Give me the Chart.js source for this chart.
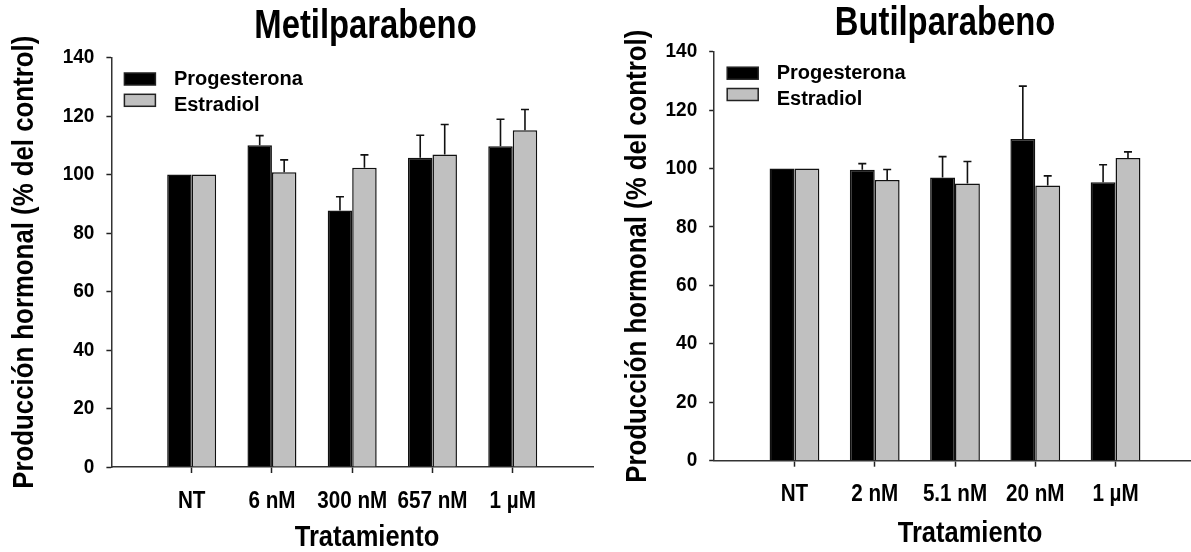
<!DOCTYPE html>
<html lang="es">
<head>
<meta charset="utf-8">
<title>Producción hormonal</title>
<script src="https://cdn.jsdelivr.net/npm/chart.js@4.4.1/dist/chart.umd.min.js"></script>
<style>
  html, body { margin: 0; padding: 0; background: #fff; overflow: hidden; width: 1191px; height: 552px; }
  canvas { position: absolute; top: 0; }
  #metil { left: 0; }
  #butil { left: 596px; }
</style>
</head>
<body>
<canvas id="metil" width="596" height="552"></canvas>
<canvas id="butil" width="604" height="552"></canvas>
<script>
// Data
const seriesNames = ['Progesterona', 'Estradiol'];
const yTicks = [0, 20, 40, 60, 80, 100, 120, 140];

const metilCategories = ['NT', '6 nM', '300 nM', '657 nM', '1 µM'];
const metilProgesterona = [100, 110, 87.7, 105.7, 109.7];
const metilProgesteronaErr = [0, 3.3, 4.7, 7.7, 9.2];
const metilEstradiol = [100, 100.8, 102.3, 106.8, 115.1];
const metilEstradiolErr = [0, 4.2, 4.4, 10.3, 7.1];

const butilCategories = ['NT', '2 nM', '5.1 nM', '20 nM', '1 µM'];
const butilProgesterona = [100, 99.6, 96.9, 110.1, 95.3];
const butilProgesteronaErr = [0, 2.1, 7.2, 18.1, 6];
const butilEstradiol = [100, 96.1, 94.9, 94.2, 103.6];
const butilEstradiolErr = [0, 3.6, 7.5, 3.3, 2.1];

// No narrow font installed, so the narrow text is squeezed by hand
const FONT = '"Liberation Sans", Arial, sans-serif';

function condensedText(ctx, text, x, y, size, sx, rotate) {
  ctx.save();
  ctx.translate(x, y);
  if (rotate) ctx.rotate(-Math.PI / 2);
  ctx.scale(sx, 1);
  ctx.font = 'bold ' + size + 'px ' + FONT;
  ctx.fillText(text, 0, 0);
  ctx.restore();
}

// empty slot before and after the groups, like the original axis
const pad = arr => [null, ...arr, null];

// Error bars: only the upper half, with a small cap
const errorBars = {
  id: 'errorBars',
  afterDatasetsDraw(chart) {
    const ctx = chart.ctx;
    const y = chart.scales.y;
    ctx.save();
    ctx.strokeStyle = '#111';
    ctx.lineWidth = 1.6;
    chart.data.datasets.forEach((ds, i) => {
      const meta = chart.getDatasetMeta(i);
      meta.data.forEach((bar, j) => {
        const v = ds.data[j];
        const e = ds.errors[j];
        if (v == null || !e) return;
        const top = y.getPixelForValue(v + e);
        ctx.beginPath();
        ctx.moveTo(bar.x, bar.y);
        ctx.lineTo(bar.x, top);
        ctx.moveTo(bar.x - 4, top);
        ctx.lineTo(bar.x + 4, top);
        ctx.stroke();
      });
    });
    ctx.restore();
  }
};

// Legend inside the plot, top left
const innerLegend = {
  id: 'innerLegend',
  afterDraw(chart) {
    const ctx = chart.ctx;
    const a = chart.chartArea;
    const rows = [15.5, 36.8];
    const textRows = [21.5, 48];
    ctx.save();
    ctx.font = 'bold 20px ' + FONT;
    ctx.textBaseline = 'middle';
    chart.data.datasets.forEach((ds, i) => {
      ctx.fillStyle = ds.backgroundColor;
      ctx.fillRect(a.left + 13, a.top + rows[i], 31, 12);
      ctx.strokeStyle = '#222';
      ctx.lineWidth = 1.5;
      ctx.strokeRect(a.left + 13, a.top + rows[i], 31, 12);
      ctx.fillStyle = '#000';
      ctx.fillText(ds.label, a.left + 62.5, a.top + textRows[i]);
    });
    ctx.restore();
  }
};

// Titles and tick labels in the narrow bold face
const panelText = {
  id: 'panelText',
  afterDraw(chart, args, opts) {
    const ctx = chart.ctx;
    const a = chart.chartArea;
    const xs = chart.scales.x;
    const ys = chart.scales.y;
    ctx.save();
    ctx.fillStyle = '#000';
    ctx.textAlign = 'center';
    ctx.textBaseline = 'middle';
    condensedText(ctx, opts.title, opts.titleX, opts.titleY, 40, 0.82);
    condensedText(ctx, opts.xTitle, opts.xTitleX, opts.xTitleY, 30, 0.85);
    condensedText(ctx, opts.yTitle, opts.yTitleX, (a.top + a.bottom) / 2, 30, 0.86, true);

    xs.ticks.forEach((t, i) => {
      if (!t.label) return;
      condensedText(ctx, t.label, xs.getPixelForTick(i), a.bottom + 34, 24, 0.86);
    });

    ctx.textAlign = 'right';
    ys.ticks.forEach((t, i) => {
      condensedText(ctx, t.label, a.left - 17, ys.getPixelForTick(i), 20, 0.95);
    });
    ctx.restore();
  }
};

function makeChart(id, categories, prog, progErr, estr, estrErr, g) {
  const labels = ['', ...categories, ''];
  return new Chart(document.getElementById(id), {
    type: 'bar',
    data: {
      labels: labels,
      datasets: [
        {
          label: seriesNames[0],
          data: pad(prog),
          errors: pad(progErr),
          backgroundColor: '#000000',
          borderColor: '#111',
          borderWidth: 1.5
        },
        {
          label: seriesNames[1],
          data: pad(estr),
          errors: pad(estrErr),
          backgroundColor: '#c0c0c0',
          borderColor: '#111',
          borderWidth: 1.5
        }
      ]
    },
    options: {
      responsive: false,
      animation: false,
      devicePixelRatio: 1,
      categoryPercentage: g.cat,
      barPercentage: 1,
      layout: { padding: { left: 0, top: g.top, right: g.right, bottom: 0 } },
      plugins: {
        legend: { display: false },
        title: { display: false },
        tooltip: { enabled: false },
        panelText: {
          title: g.title, titleX: g.titleX, titleY: g.titleY,
          xTitle: 'Tratamiento', xTitleX: g.xTitleX, xTitleY: g.xTitleY,
          yTitle: 'Producción hormonal (% del control)', yTitleX: g.yTitleX
        }
      },
      scales: {
        x: {
          type: 'category',
          offset: false,
          grid: {
            offset: false,
            drawOnChartArea: false,
            drawTicks: true,
            tickLength: 6,
            tickWidth: 1.5,
            tickColor: c => (c.index === 0 || c.index === labels.length - 1) ? 'rgba(0,0,0,0)' : '#222'
          },
          border: { display: true, color: '#333', width: 1.5 },
          ticks: { autoSkip: false, maxRotation: 0, color: 'rgba(0,0,0,0)' },
          afterFit: s => { s.height = g.xHeight; }
        },
        y: {
          min: 0,
          max: 140,
          afterBuildTicks: s => { s.ticks = yTicks.map(v => ({ value: v })); },
          grid: {
            drawOnChartArea: false,
            drawTicks: true,
            tickLength: 5,
            tickWidth: 1.5,
            tickColor: '#222'
          },
          border: { display: true, color: '#333', width: 1.5 },
          ticks: { color: 'rgba(0,0,0,0)' },
          afterFit: s => { s.width = g.yWidth; }
        }
      }
    },
    plugins: [errorBars, innerLegend, panelText]
  });
}

makeChart('metil', metilCategories, metilProgesterona, metilProgesteronaErr, metilEstradiol, metilEstradiolErr, {
  cat: 0.61, top: 57.5, right: 2.4, yWidth: 111.4, xHeight: 85,
  title: 'Metilparabeno', titleX: 365.5, titleY: 27,
  xTitleX: 367, xTitleY: 538, yTitleX: 24.5
});

makeChart('butil', butilCategories, butilProgesterona, butilProgesteronaErr, butilEstradiol, butilEstradiolErr, {
  cat: 0.62, top: 51.7, right: 4.2, yWidth: 118.2, xHeight: 91.3,
  title: 'Butilparabeno', titleX: 349, titleY: 24,
  xTitleX: 374, xTitleY: 534, yTitleX: 41.7
});
</script>
</body>
</html>
